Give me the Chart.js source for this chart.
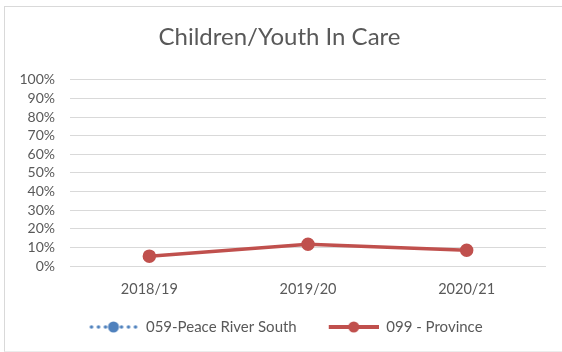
<!DOCTYPE html>
<html>
<head>
<meta charset="utf-8">
<script src="https://cdn.jsdelivr.net/npm/chart.js@4"></script>
<style>
  html, body { margin: 0; padding: 0; background: #fff; }
  #wrap { position: relative; width: 562px; height: 352px; }
  #frame { position: absolute; left: 4px; top: 6px; width: 560px; height: 344px;
           border-left: 1px solid #d9d9d9; border-top: 1px solid #d9d9d9; border-bottom: 1px solid #ececec; }
  canvas { position: absolute; left: 0; top: 0; }
</style>
</head>
<body>
<div id="wrap">
  <div id="frame"></div>
  <canvas id="c" width="562" height="352"></canvas>
</div>
<script>
const categories = ['2018/19', '2019/20', '2020/21'];
const peaceRiverSouth = [null, null, null];
const province = [5.3, 11.7, 8.5];
const yTicks = [0, 10, 20, 30, 40, 50, 60, 70, 80, 90, 100];

const FONT = 'Lato, "Open Sans", sans-serif';
const TEXT = '#595959';
const BLUE = '#4f81bd';
const RED = '#c0504d';

// Legend swatch: a line segment with a marker in the middle,
// with a blank margin on the left to space the entries apart
function swatch(color, dotted) {
  const cv = document.createElement('canvas');
  cv.width = 62; cv.height = 14;
  const g = cv.getContext('2d');
  g.strokeStyle = color; g.fillStyle = color;
  const x0 = 12;
  if (dotted) {
    [3, 10, 17, 33, 40, 47].forEach(x => {
      g.beginPath(); g.arc(x0 + x, 7, 1.8, 0, Math.PI * 2); g.fill();
    });
  } else {
    g.lineWidth = 4; g.lineCap = 'butt';
    g.beginPath(); g.moveTo(x0, 7); g.lineTo(x0 + 50, 7); g.stroke();
  }
  g.beginPath(); g.arc(x0 + 25, 7, 5.5, 0, Math.PI * 2); g.fill();
  return cv;
}

new Chart(document.getElementById('c'), {
  type: 'line',
  data: {
    labels: categories,
    datasets: [
      {
        label: '059-Peace River South',
        data: peaceRiverSouth,
        borderColor: BLUE, backgroundColor: BLUE,
        borderWidth: 3, borderDash: [2, 5],
        pointRadius: 5
      },
      {
        label: '099 - Province',
        data: province,
        borderColor: RED, backgroundColor: RED,
        borderWidth: 3.5,
        pointRadius: 5, pointHoverRadius: 5,
        pointBackgroundColor: RED, pointBorderColor: RED
      }
    ]
  },
  options: {
    responsive: false,
    animation: false,
    layout: { padding: { left: 13, right: 16, top: 0, bottom: 7.5 } },
    plugins: {
      tooltip: { enabled: false },
      title: {
        display: true,
        text: 'Children/Youth In Care',
        color: TEXT,
        font: { family: FONT, size: 24, weight: 'normal' },
        padding: { top: 23, bottom: 28 }
      },
      legend: {
        position: 'bottom',
        labels: {
          color: TEXT,
          font: { family: FONT, size: 15 },
          usePointStyle: true,
          pointStyleWidth: 62,
          padding: 20,
          generateLabels(chart) {
            return chart.data.datasets.map((ds, i) => ({
              text: ds.label,
              datasetIndex: i,
              fontColor: TEXT,
              pointStyle: swatch(ds.borderColor, i === 0),
              lineWidth: 0,
              hidden: false
            }));
          }
        }
      }
    },
    scales: {
      x: {
        offset: true,
        grid: { display: false, drawTicks: false },
        border: { display: false },
        ticks: { color: TEXT, font: { family: FONT, size: 14.5 }, padding: 15 },
        afterFit(s) { s.height = 33.5; }
      },
      y: {
        min: 0, max: 100,
        afterBuildTicks(s) { s.ticks = yTicks.map(v => ({ value: v })); },
        grid: { color: '#d9d9d9', lineWidth: 1, drawTicks: false },
        border: { display: false },
        ticks: {
          color: TEXT, font: { family: FONT, size: 14 }, padding: 15,
          autoSkip: false,
          callback: v => v + '%'
        },
        afterFit(s) { s.width = 57; }
      }
    }
  }
});
</script>
</body>
</html>
